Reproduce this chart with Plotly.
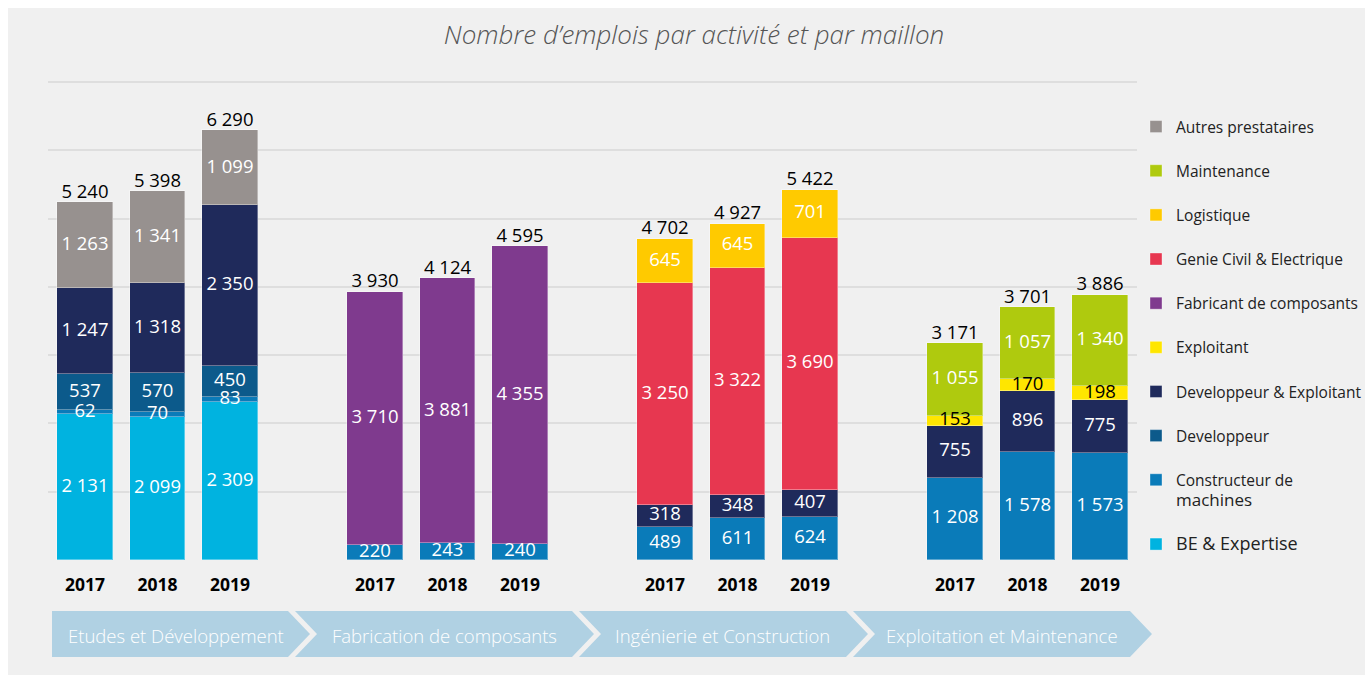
import plotly.graph_objects as go

# ---- data -------------------------------------------------------------
stages = ["Etudes et Développement", "Fabrication de composants",
          "Ingénierie et Construction", "Exploitation et Maintenance"]
years = ["2017", "2018", "2019"]

be_expertise = [2131, 2099, 2309, None, None, None, None, None, None, None, None, None]
constructeur = [62, 70, 83, 220, 243, 240, 489, 611, 624, 1208, 1578, 1573]
developpeur = [537, 570, 450, None, None, None, None, None, None, None, None, None]
dev_exploitant = [1247, 1318, 2350, None, None, None, 318, 348, 407, 755, 896, 775]
exploitant = [None, None, None, None, None, None, None, None, None, 153, 170, 198]
fabricant = [None, None, None, 3710, 3881, 4355, None, None, None, None, None, None]
genie_civil = [None, None, None, None, None, None, 3250, 3322, 3690, None, None, None]
logistique = [None, None, None, None, None, None, 645, 645, 701, None, None, None]
maintenance = [None, None, None, None, None, None, None, None, None, 1055, 1057, 1340]
autres = [1263, 1341, 1099, None, None, None, None, None, None, None, None, None]
totals = [5240, 5398, 6290, 3930, 4124, 4595, 4702, 4927, 5422, 3171, 3701, 3886]

# stacking order, bottom to top: (legend name, values, colour, label colour)
series = [
    ("<span style='font-size:18px'>BE & Expertise</span>", be_expertise, "#00b3e0", "white"),
    ("Constructeur de<br><span style='font-size:17px'>machines</span>", constructeur, "#0a7bb9", "white"),
    ("Developpeur", developpeur, "#0c5a8b", "white"),
    ("Developpeur & Exploitant", dev_exploitant, "#1f2a5b", "white"),
    ("Exploitant", exploitant, "#ffe600", "black"),
    ("Fabricant de composants", fabricant, "#7f3a8e", "white"),
    ("Genie Civil & Electrique", genie_civil, "#e73750", "white"),
    ("Logistique", logistique, "#ffca00", "white"),
    ("Maintenance", maintenance, "#afca0e", "white"),
    ("Autres prestataires", autres, "#97918f", "white"),
]

# bar slots: three years per stage, one empty slot between stages
x_pos = [g * 4 + i for g in range(len(stages)) for i in range(len(years))]
x_labels = [y for _ in stages for y in years]


def fmt(v):
    return "" if v is None else f"{v:,}".replace(",", " ")


# ---- page geometry (pixels) --------------------------------------------
W, H = 1365, 675
L, R, T, B = 48, 1137, 81, 560
Y_MAX = 7015


def px(x):
    return (x - L) / (R - L)


def py(y):
    return (B - y) / (B - T)


fig = go.Figure()

for i, (name, vals, color, tcolor) in enumerate(series):
    fig.add_trace(go.Bar(
        x=x_pos, y=vals, name=name, legendgroup=f"g{i}", legendrank=100 - i,
        marker=dict(color=color, line=dict(color="rgba(255,255,255,0.35)", width=1)),
        width=0.76, hoverinfo="skip",
    ))

# segment labels, drawn above every bar so small segments stay readable
base = [0] * len(x_pos)
for name, vals, color, tcolor in series:
    ys, txt = [], []
    for j, v in enumerate(vals):
        if v is None:
            ys.append(None)
            txt.append("")
        else:
            ys.append(base[j] + v / 2)
            txt.append(fmt(v))
            base[j] += v
    fig.add_trace(go.Scatter(
        x=x_pos, y=ys, mode="text", text=txt, textposition="middle center",
        showlegend=False, hoverinfo="skip",
        textfont=dict(family="Open Sans", size=18.5, color=tcolor),
    ))

fig.add_trace(go.Scatter(
    x=x_pos, y=totals, mode="text", text=[fmt(v) for v in totals],
    textposition="top center", showlegend=False, hoverinfo="skip",
    textfont=dict(family="Open Sans", size=18.5, color="black"),
))

shapes = [dict(type="rect", xref="paper", yref="paper", layer="below",
               x0=px(8), x1=px(W), y0=py(H), y1=py(8),
               fillcolor="#f0f0f0", line=dict(width=0))]

# value-chain chevrons under the chart
chev = [(52, 288), (295, 572), (579, 846), (853, 1130)]
chev_text_x = [176, 444, 722, 1002]
d, ct, cm, cb = 22, 611, 634, 657
annotations = []
for k, (l, r) in enumerate(chev):
    pts = [(l, ct), (r, ct), (r + d, cm), (r, cb), (l, cb)]
    if k > 0:
        pts.append((l + d, cm))
    path = "M " + " L ".join(f"{px(a):.5f},{py(b):.5f}" for a, b in pts) + " Z"
    shapes.append(dict(type="path", xref="paper", yref="paper", path=path,
                       fillcolor="#b0d1e3", line=dict(width=0), layer="below"))
    annotations.append(dict(xref="paper", yref="paper", x=px(chev_text_x[k]), y=py(cm + 1),
                            text=stages[k], showarrow=False, xanchor="center", yanchor="middle",
                            font=dict(family="Open Sans", size=18.5, color="white", weight=300)))

fig.update_layout(
    width=W, height=H, autosize=False,
    margin=dict(l=L, r=W - R, t=T, b=H - B, pad=0, autoexpand=False),
    paper_bgcolor="white", plot_bgcolor="rgba(0,0,0,0)",
    barmode="stack", bargap=0,
    title=dict(text="Nombre d’emplois par activité et par maillon",
               x=694 / W, xanchor="center", y=1 - 35 / H, yanchor="middle",
               font=dict(family="Open Sans", size=26, color="#555555", style="italic", weight=300)),
    xaxis=dict(range=[-0.51, 14.51], tickvals=x_pos, ticktext=x_labels,
               ticks="outside", ticklen=9, tickcolor="rgba(0,0,0,0)",
               tickfont=dict(family="Open Sans", size=17.5, color="black", weight="bold"),
               showgrid=False, zeroline=False, showline=False, fixedrange=True),
    yaxis=dict(range=[0, Y_MAX], dtick=1000, showticklabels=False,
               showgrid=True, gridcolor="#dedede", gridwidth=2,
               zeroline=False, showline=False, fixedrange=True),
    legend=dict(x=px(1136), xanchor="left", y=py(110), yanchor="top",
                traceorder="grouped", tracegroupgap=21, valign="top",
                bgcolor="rgba(0,0,0,0)",
                font=dict(family="Open Sans", size=15.5, color="#222222")),
    shapes=shapes, annotations=annotations,
    showlegend=True,
)

fig.write_html("out.html")
